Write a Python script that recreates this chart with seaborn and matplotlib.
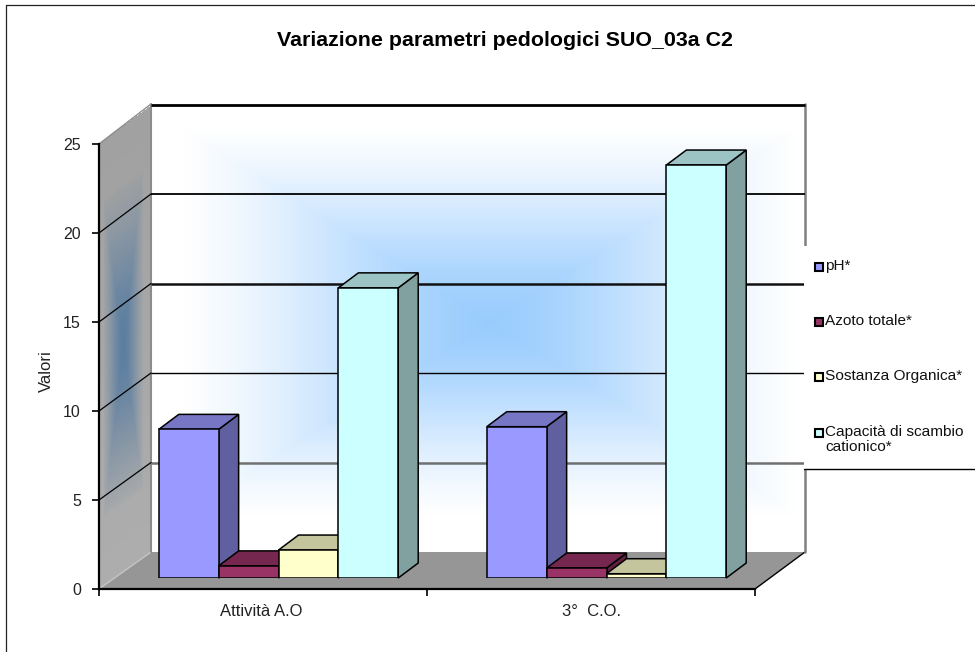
import numpy as np
import pandas as pd
import matplotlib.pyplot as plt
from matplotlib.patches import Polygon, Rectangle
from matplotlib.colors import to_rgb
import seaborn as sns

fasi = ['Attività A.O', '3°  C.O.']
parametri = ['pH*', 'Azoto totale*', 'Sostanza Organica*', 'Capacità di scambio\ncationico*']
ph = [8.35, 8.5]
azoto = [0.68, 0.56]
sostanza = [1.57, 0.24]
capacita = [16.3, 23.2]
colori = ['#9999FF', '#993366', '#FFFFCC', '#CCFFFF']
y_ticks = [0, 5, 10, 15, 20, 25]

sns.set_theme(style='white')
plt.rcParams['font.family'] = ['Liberation Sans', 'DejaVu Sans']

df = pd.DataFrame({
    'fase': fasi * 4,
    'parametro': [p for p in parametri for _ in fasi],
    'valore': ph + azoto + sostanza + capacita,
})

W, H = 975, 652
fig = plt.figure(figsize=(W / 100, H / 100), dpi=100, facecolor='white')


def pos(x0, x1, ytop, ybot):
    return [x0 / W, 1 - ybot / H, (x1 - x0) / W, (ybot - ytop) / H]


def fade(a, b, gamma):
    # rectangular path gradient, 1 in the middle and 0 on the edges, soft at the rim
    t = (1 - np.maximum(np.abs(a), np.abs(b))).clip(0, 1)
    return (t ** gamma + t * t * (3 - 2 * t)) / 2


# pixel layer for the walls and floor
bg = fig.add_axes([0, 0, 1, 1], zorder=0)
bg.set_xlim(0, W)
bg.set_ylim(H, 0)
bg.axis('off')

bg.plot([6, 6], [5, H], color='#222222', lw=0.9)
bg.plot([6, W], [5, 5], color='#222222', lw=0.9)

# back wall
xx, yy = np.meshgrid(np.arange(151, 806), np.arange(104, 553))
t = fade((xx - 490) / 305, (yy - 322) / 192, 0.85)[..., None]
wall = (1 - t) * np.array([1, 1, 1]) + t * np.array([0.6, 0.8, 0.995])
bg.imshow(wall, extent=(151, 805, 552, 104), aspect='auto', interpolation='bilinear')
bg.set_xlim(0, W)
bg.set_ylim(H, 0)

# left wall
u = np.linspace(0, 1, 53)
v = np.linspace(0, 1, 120)
uu, vv = np.meshgrid(u, v)
X = 99 + 52 * uu
Y = 144 + 445 * vv - 38 * uu
uc, vc = np.meshgrid((u[:-1] + u[1:]) / 2, (v[:-1] + v[1:]) / 2)
t = fade((uc - 0.47) / 0.38, (vc - 0.49) / 0.36, 0.6)[..., None]
base = 0.63 + 0.05 * vc[..., None]
lato = (1 - t) * base + t * np.array([0.35, 0.49, 0.63])
bg.pcolormesh(X, Y, lato, shading='flat', antialiased=False, edgecolors='none')

# floor
bg.add_patch(Polygon([(99, 589), (755, 589), (805, 552), (151, 552)], closed=True,
                     facecolor='#969696', edgecolor='none'))
bg.plot([755, 805], [589, 552], color='black', lw=1)
bg.plot([99, 151], [589, 552], color='#c4c4c4', lw=1)
bg.plot([99, 151], [144, 104], color='#8c8c8c', lw=1)
bg.plot([151, 151], [104, 552], color='#8c8c8c', lw=1.5)
bg.plot([805, 805], [104, 552], color='#808080', lw=1.8)

# gridlines, as they come out of the rescaled original
griglia = {25: ('black', 2.0), 20: ('black', 1.3), 15: ('#111111', 1.8),
           10: ('black', 1.0), 5: ('#707070', 1.8)}
for val, (col, lw) in griglia.items():
    yb = 552 - val * 17.9
    yf = 589 - val * 17.8
    bg.plot([151, 805], [yb, yb], color=col, lw=lw, solid_capstyle='butt')
    if val < 25:
        bg.plot([99, 151], [yf, yb], color='black', lw=0.9)

# legend
bg.add_patch(Rectangle((804, 246), W - 804, 223, facecolor='white', edgecolor='none', zorder=5))
bg.plot([804, W], [469, 469], color='black', lw=1, zorder=5)
for nome, col, yl in zip(parametri, colori, [267, 322, 377, 433]):
    bg.add_patch(Rectangle((815, yl - 4), 8, 8, facecolor=col, edgecolor='black', lw=1.5, zorder=6))
    bg.text(825, yl - 8, nome, fontsize=11.1, va='top', ha='left', color='#111111',
            linespacing=1.12, zorder=6)

bg.text(505, 41, 'Variazione parametri pedologici SUO_03a C2', fontsize=15.4,
        fontweight='bold', ha='center', va='center', color='black')

# front axes with ticks
ax0 = fig.add_axes(pos(99, 755, 144, 589), zorder=1, facecolor='none')
ax0.set_xlim(0, 2)
ax0.set_ylim(0, 25)
sns.despine(ax=ax0)
for s in ['left', 'bottom']:
    ax0.spines[s].set_linewidth(1.6)
    ax0.spines[s].set_color('black')
ax0.set_yticks(y_ticks)
ax0.set_xticks([0, 1, 2])
ax0.set_xticklabels([])
ax0.set_xticks([0.494, 1.503], fasi, minor=True)
ax0.tick_params(axis='x', which='major', bottom=True, length=5, width=1.2, color='black')
ax0.tick_params(axis='x', which='minor', bottom=False, length=0, pad=11, labelsize=12, labelcolor='#222222')
ax0.tick_params(axis='y', left=True, length=5, width=1.2, color='black', pad=8, labelsize=11.5, labelcolor='#222222')
ax0.set_ylabel('Valori', fontsize=12, color='#222222')
ax0.yaxis.set_label_coords(-0.068, 0.49)

# bars stand a little way into the floor
ax = fig.add_axes(pos(114.5, 770.5, 133, 578), zorder=2, facecolor='none')
sns.barplot(data=df, x='fase', y='valore', hue='parametro', order=fasi, hue_order=parametri,
            palette=colori, saturation=1, width=0.73, gap=0, dodge=True, legend=False,
            edgecolor='black', linewidth=1.1, ax=ax)
ax.set_xlim(-0.5, 1.5)
ax.set_ylim(0, 25)
ax.axis('off')

dx = 20 / 328
dy = 15 / 17.8
barre = sorted([b for b in ax.patches if b.get_height() > 0], key=lambda b: b.get_x())
for i, b in enumerate(barre):
    x0, x1, h = b.get_x(), b.get_x() + b.get_width(), b.get_height()
    col = np.array(to_rgb(b.get_facecolor()))
    z = 3 + i * 3
    ax.add_patch(Polygon([(x1, 0), (x1 + dx, dy), (x1 + dx, h + dy), (x1, h)], closed=True,
                         facecolor=col * 0.63, edgecolor='black', lw=1.1, zorder=z, clip_on=False))
    ax.add_patch(Polygon([(x0, h), (x0 + dx, h + dy), (x1 + dx, h + dy), (x1, h)], closed=True,
                         facecolor=col * 0.77, edgecolor='black', lw=1.1, zorder=z + 1, clip_on=False))
    b.set_zorder(z + 2)

fig.savefig('out.png', dpi=100)
